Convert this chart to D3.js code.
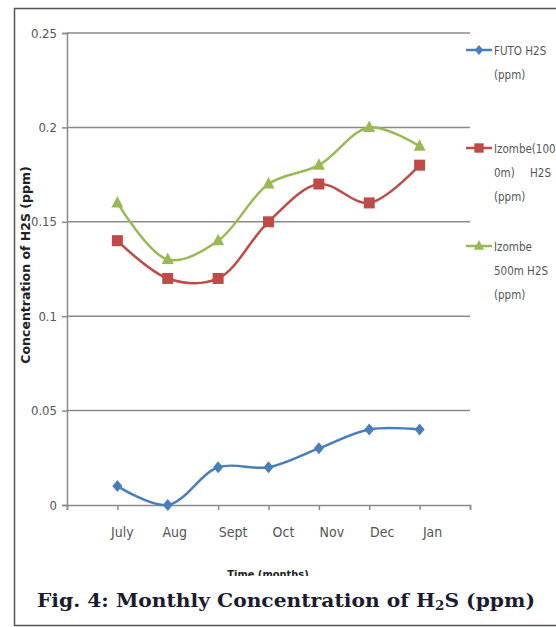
<!DOCTYPE html>
<html>
<head>
<meta charset="utf-8">
<script src="https://cdn.jsdelivr.net/npm/d3@7"></script>
<style>
  body { margin: 0; background: #fff; }
  svg { display: block; }
</style>
</head>
<body>
<svg width="556" height="627"></svg>
<script>
// data
var months = ["July", "Aug", "Sept", "Oct", "Nov", "Dec", "Jan"];
var futo = [0.01, 0, 0.02, 0.02, 0.03, 0.04, 0.04];
var izombe1000 = [0.14, 0.12, 0.12, 0.15, 0.17, 0.16, 0.18];
var izombe500 = [0.16, 0.13, 0.14, 0.17, 0.18, 0.20, 0.19];
var yTicks = [0, 0.05, 0.1, 0.15, 0.2, 0.25];

var series = [
  { name: ["FUTO H2S", "(ppm)"], values: futo, color: "#4a7ebb", marker: "diamond", ly: 50 },
  { name: ["Izombe(100", "0m)|H2S", "(ppm)"], values: izombe1000, color: "#be4b48", marker: "square", ly: 148 },
  { name: ["Izombe", "500m H2S", "(ppm)"], values: izombe500, color: "#98b954", marker: "triangle", ly: 246 }
];

var narrow = "'DejaVu Sans Condensed', 'DejaVu Sans', sans-serif";

var svg = d3.select("svg");

// outer frame
svg.append("path")
  .attr("d", "M556,8.5H14.5V625.5H556")
  .attr("fill", "none")
  .attr("stroke", "#555")
  .attr("stroke-width", 1.5);

var x = d3.scaleLinear().domain([0, 8]).range([67, 470]);
var y = d3.scaleLinear().domain([0, 0.25]).range([505, 33]);

// gridlines
svg.append("g").selectAll("line")
  .data(yTicks.filter(function (d) { return d > 0; }))
  .enter().append("line")
  .attr("x1", x(0)).attr("x2", x(8))
  .attr("y1", function (d) { return y(d); })
  .attr("y2", function (d) { return y(d); })
  .attr("stroke", "#8a8a8a")
  .attr("stroke-width", 1.5);

// y axis
var yAxis = svg.append("g")
  .attr("transform", "translate(" + x(0) + ",0)")
  .call(d3.axisLeft(y).tickValues(yTicks).tickSize(5).tickPadding(5)
    .tickFormat(function (d) { return d === 0 ? "0" : String(+d.toFixed(2)); }));
yAxis.select(".domain").attr("stroke", "#8a8a8a").attr("stroke-width", 1.5);
yAxis.selectAll(".tick line").attr("stroke", "#8a8a8a").attr("stroke-width", 1.5);
yAxis.selectAll("text").attr("font-family", narrow).attr("font-size", 13).attr("fill", "#555");

// x axis
var xAxis = svg.append("g")
  .attr("transform", "translate(0," + y(0) + ")")
  .call(d3.axisBottom(x).tickValues(d3.range(0, 9)).tickSize(5).tickFormat(""));
xAxis.select(".domain").attr("stroke", "#8a8a8a").attr("stroke-width", 1.5);
xAxis.selectAll(".tick line").attr("stroke", "#8a8a8a").attr("stroke-width", 1.5);

var labelShift = [5, 7, 15, 15, 13, 13, 13];
svg.append("g").selectAll("text")
  .data(months)
  .enter().append("text")
  .attr("x", function (d, i) { return x(i + 1) + labelShift[i]; })
  .attr("y", 537)
  .attr("text-anchor", "middle")
  .attr("font-family", narrow)
  .attr("font-size", 14)
  .attr("fill", "#555")
  .text(function (d) { return d; });

// axis titles
svg.append("text")
  .attr("transform", "translate(30,265) rotate(-90)")
  .attr("text-anchor", "middle")
  .attr("font-family", "'DejaVu Sans', sans-serif")
  .attr("font-weight", "bold")
  .attr("font-size", 12.5)
  .attr("fill", "#222")
  .text("Concentration of H2S (ppm)");

svg.append("clipPath").attr("id", "cut")
  .append("rect").attr("x", 0).attr("y", 560).attr("width", 556).attr("height", 16);
svg.append("text")
  .attr("clip-path", "url(#cut)")
  .attr("x", 268).attr("y", 578)
  .attr("text-anchor", "middle")
  .attr("font-family", "'DejaVu Sans Condensed', sans-serif")
  .attr("font-weight", "bold")
  .attr("font-size", 11)
  .attr("fill", "#222")
  .text("Time (months)");

// markers
function drawMarker(g, type, color) {
  if (type === "diamond") {
    g.append("path").attr("d", "M0,-6L5,0L0,6L-5,0Z").attr("fill", color);
  } else if (type === "square") {
    g.append("rect").attr("x", -5.5).attr("y", -5.5).attr("width", 11).attr("height", 11).attr("fill", color);
  } else {
    g.append("path").attr("d", "M0,-7L6,4.5L-6,4.5Z").attr("fill", color);
  }
}

var line = d3.line()
  .x(function (d, i) { return x(i + 1); })
  .y(function (d) { return y(d); })
  .curve(d3.curveCatmullRom.alpha(0.5));

series.forEach(function (s) {
  svg.append("path")
    .attr("d", line(s.values))
    .attr("fill", "none")
    .attr("stroke", s.color)
    .attr("stroke-width", 2.5);
  s.values.forEach(function (v, i) {
    var g = svg.append("g").attr("transform", "translate(" + x(i + 1) + "," + y(v) + ")");
    drawMarker(g, s.marker, s.color);
  });

  // legend entry
  var lg = svg.append("g");
  lg.append("line")
    .attr("x1", 466).attr("x2", 492)
    .attr("y1", s.ly).attr("y2", s.ly)
    .attr("stroke", s.color).attr("stroke-width", 2.5);
  var m = lg.append("g").attr("transform", "translate(479," + s.ly + ") scale(0.85)");
  drawMarker(m, s.marker, s.color);
  s.name.forEach(function (t, k) {
    var ty = s.ly + 5 + k * 24;
    var parts = t.split("|");
    lg.append("text").attr("x", 494).attr("y", ty)
      .attr("font-family", narrow).attr("font-size", 11.5).attr("fill", "#555").text(parts[0]);
    if (parts.length > 1) {
      lg.append("text").attr("x", 551).attr("y", ty).attr("text-anchor", "end")
        .attr("font-family", narrow).attr("font-size", 11.5).attr("fill", "#555").text(parts[1]);
    }
  });
});

// caption
var cap = svg.append("text")
  .attr("x", 37).attr("y", 607)
  .attr("textLength", 498)
  .attr("lengthAdjust", "spacingAndGlyphs")
  .attr("font-family", "'DejaVu Serif', serif")
  .attr("font-weight", "bold")
  .attr("font-size", 18)
  .attr("fill", "#1c1c30");
cap.append("tspan").text("Fig. 4: Monthly Concentration of H");
cap.append("tspan").attr("font-size", 12).attr("dy", 3).text("2");
cap.append("tspan").attr("dy", -3).text("S (ppm)");
</script>
</body>
</html>
